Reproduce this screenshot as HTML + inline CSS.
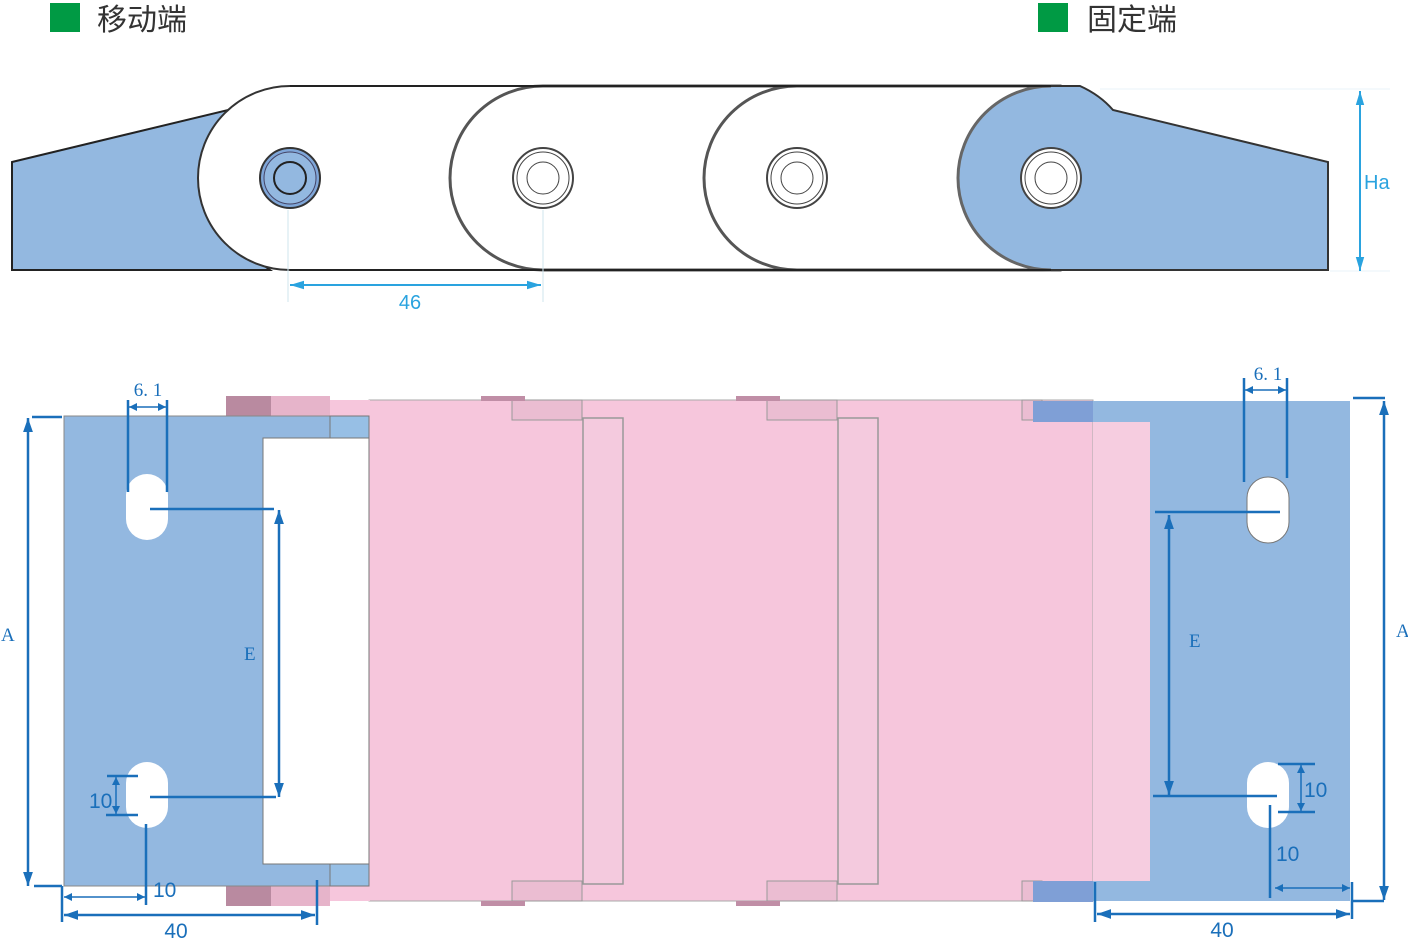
<!DOCTYPE html>
<html><head><meta charset="utf-8"><style>
html,body{margin:0;padding:0;background:#fff;width:1408px;height:939px;overflow:hidden}
svg{display:block}
.cn{font-family:"Liberation Sans","Noto Sans CJK SC",sans-serif;font-size:30px;fill:#333}
.s{font-family:"Liberation Serif",serif;font-size:19px;fill:#1a6fba}
.n{font-family:"Liberation Sans",sans-serif;font-size:21px;fill:#1a6fba}
.lb{font-family:"Liberation Sans",sans-serif;font-size:20px;fill:#2aa3df}
</style></head><body>
<svg width="1408" height="939" viewBox="0 0 1408 939" xmlns="http://www.w3.org/2000/svg">
<defs>
<marker id="a" viewBox="0 0 10 10" refX="10" refY="5" markerWidth="8" markerHeight="8" orient="auto-start-reverse" markerUnits="userSpaceOnUse"><path d="M0,0 L10,5 L0,10 z" fill="#1a6fba"/></marker>
<marker id="b" viewBox="0 0 10 10" refX="10" refY="5" markerWidth="14" markerHeight="14" orient="auto-start-reverse" markerUnits="userSpaceOnUse"><path d="M0,1.5 L10,5 L0,8.5 z" fill="#1a6fba"/></marker>
<marker id="c" viewBox="0 0 10 10" refX="10" refY="5" markerWidth="14" markerHeight="14" orient="auto-start-reverse" markerUnits="userSpaceOnUse"><path d="M0,2 L10,5 L0,8 z" fill="#2aa3df"/></marker>
</defs>
<rect x="50" y="3" width="30" height="29" fill="#009a44"/>
<text x="97" y="30" class="cn">移动端</text>
<rect x="1038" y="3" width="30" height="29" fill="#009a44"/>
<text x="1087" y="30" class="cn">固定端</text>

<polygon points="12,162 228,110 200,180 230,240 270,270 12,270" fill="#93b8e0" stroke="#222" stroke-width="2"/>
<g stroke="#333" stroke-width="2" fill="#fff">
<path d="M290,86 L1060,86 L1060,270 L290,270 A92,92 0 0 1 290,86 Z"/>
<path d="M543,86 L1060,86 L1060,270 L543,270 A93,92 0 0 1 543,86 Z" stroke-width="3" stroke="#555"/>
<path d="M797,86 L1060,86 L1060,270 L797,270 A93,92 0 0 1 797,86 Z" stroke-width="3" stroke="#555"/>
</g>
<path d="M1051,86 L1080,86 Q1100,95 1113,110 L1328,162 L1328,270 L1051,270 A93,92 0 0 1 1051,86 Z" fill="#93b8e0" stroke="#333" stroke-width="2"/>
<path d="M1051,86 A93,92 0 0 0 1051,270" fill="none" stroke="#666" stroke-width="3"/>
<line x1="290" y1="86" x2="1051" y2="86" stroke="#222" stroke-width="2"/>
<line x1="290" y1="270" x2="1051" y2="270" stroke="#222" stroke-width="2"/>
<circle cx="290" cy="178" r="30" fill="#7fa6d8" stroke="#333" stroke-width="2"/>
<circle cx="290" cy="178" r="26" fill="#93b8e0" stroke="#446" stroke-width="1"/>
<circle cx="290" cy="178" r="16" fill="#93b8e0" stroke="#222" stroke-width="2"/>
<g fill="#fff" stroke="#444" stroke-width="2">
<circle cx="543" cy="178" r="30"/><circle cx="543" cy="178" r="26" stroke-width="1"/><circle cx="543" cy="178" r="16" stroke-width="1"/>
<circle cx="797" cy="178" r="30"/><circle cx="797" cy="178" r="26" stroke-width="1"/><circle cx="797" cy="178" r="16" stroke-width="1"/>
<circle cx="1051" cy="178" r="30"/><circle cx="1051" cy="178" r="26" stroke-width="1"/><circle cx="1051" cy="178" r="16" stroke-width="1"/>
</g>
<line x1="288" y1="210" x2="288" y2="302" stroke="#cfe4ee" stroke-width="1"/>
<line x1="543" y1="210" x2="543" y2="302" stroke="#cfe4ee" stroke-width="1"/>
<line x1="290" y1="285" x2="541" y2="285" stroke="#2aa3df" stroke-width="2" marker-start="url(#c)" marker-end="url(#c)"/>
<text x="410" y="309" class="lb" text-anchor="middle" font-family="Liberation Serif">46</text>
<line x1="1100" y1="89" x2="1390" y2="89" stroke="#eaf3f8" stroke-width="1"/>
<line x1="1330" y1="271" x2="1390" y2="271" stroke="#eaf3f8" stroke-width="1"/>
<line x1="1360" y1="91" x2="1360" y2="271" stroke="#2aa3df" stroke-width="2" marker-start="url(#c)" marker-end="url(#c)"/>
<text x="1364" y="189" class="lb">Ha</text>

<rect x="369" y="400" width="724" height="501" fill="#f6c6dc" stroke="#aaa" stroke-width="1"/>
<rect x="226" y="396" width="104" height="20" fill="#e6b4ca"/>
<rect x="226" y="396" width="45" height="20" fill="#b98aa0"/>
<rect x="226" y="886" width="104" height="20" fill="#e6b4ca"/>
<rect x="226" y="886" width="45" height="20" fill="#b98aa0"/>
<rect x="330" y="400" width="40" height="501" fill="#f6c6dc"/>
<rect x="64" y="416" width="266" height="470" fill="#93b8e0" stroke="#888" stroke-width="1"/>
<rect x="330" y="416" width="39" height="22" fill="#97bfe5" stroke="#777" stroke-width="1"/>
<rect x="330" y="864" width="39" height="22" fill="#97bfe5" stroke="#777" stroke-width="1"/>
<rect x="263" y="438" width="106" height="426" fill="#fff" stroke="#777" stroke-width="1"/>
<g stroke="#999" stroke-width="1.5" fill="#f4cade">
<rect x="583" y="418" width="40" height="466"/>
<rect x="838" y="418" width="40" height="466"/>
</g>
<g fill="#ebbdd2" stroke="#999" stroke-width="1">
<rect x="512" y="400" width="70" height="20"/><rect x="512" y="881" width="70" height="20"/>
<rect x="767" y="400" width="70" height="20"/><rect x="767" y="881" width="70" height="20"/>
<rect x="1022" y="400" width="20" height="20"/><rect x="1022" y="881" width="20" height="20"/>
</g>
<g fill="#c08ea6"><rect x="481" y="396" width="44" height="5"/><rect x="481" y="901" width="44" height="5"/><rect x="736" y="396" width="44" height="5"/><rect x="736" y="901" width="44" height="5"/></g>
<rect x="1033" y="401" width="60" height="21" fill="#7f9fd6"/>
<rect x="1033" y="881" width="60" height="21" fill="#7f9fd6"/>
<rect x="1093" y="401" width="257" height="500" fill="#93b8e0"/>
<rect x="1093" y="422" width="57" height="459" fill="#f6cde0"/>
<g fill="#fff">
<rect x="126" y="474" width="42" height="66" rx="21"/>
<rect x="126" y="762" width="42" height="66" rx="21"/>
<rect x="1247" y="477" width="42" height="66" rx="21" stroke="#777" stroke-width="1"/>
<rect x="1247" y="762" width="42" height="66" rx="21"/>
</g>
<g stroke="#1a6fba" stroke-width="2.5" fill="none">
<line x1="28" y1="418" x2="28" y2="886" marker-start="url(#b)" marker-end="url(#b)"/>
<line x1="32" y1="417" x2="62" y2="417"/>
<line x1="34" y1="886" x2="62" y2="886"/>
<line x1="128" y1="400" x2="128" y2="492"/>
<line x1="167" y1="400" x2="167" y2="492"/>
<line x1="279" y1="510" x2="279" y2="797" marker-start="url(#b)" marker-end="url(#b)"/>
<line x1="150" y1="509" x2="274" y2="509"/>
<line x1="150" y1="797" x2="276" y2="797"/>
<line x1="107" y1="776" x2="138" y2="776"/>
<line x1="106" y1="815" x2="138" y2="815"/>
<line x1="146" y1="824" x2="146" y2="905"/>
<line x1="62" y1="886" x2="62" y2="922"/>
<line x1="317" y1="880" x2="317" y2="925"/>
<line x1="64" y1="915" x2="315" y2="915" marker-start="url(#b)" marker-end="url(#b)"/>
</g>
<g stroke="#1a6fba" stroke-width="1.5">
<line x1="129" y1="407" x2="166" y2="407" marker-start="url(#a)" marker-end="url(#a)"/>
<line x1="116" y1="777" x2="116" y2="814" marker-start="url(#a)" marker-end="url(#a)"/>
<line x1="64" y1="897" x2="145" y2="897" marker-start="url(#a)" marker-end="url(#a)"/>
</g>
<text x="148" y="396" class="s" text-anchor="middle">6. 1</text>
<text x="1" y="641" class="s">A</text>
<text x="244" y="660" class="s">E</text>
<text x="89" y="808" class="n">10</text>
<text x="153" y="897" class="n">10</text>
<text x="176" y="938" class="n" text-anchor="middle">40</text>
<g stroke="#1a6fba" stroke-width="2.5" fill="none">
<line x1="1384" y1="401" x2="1384" y2="900" marker-start="url(#b)" marker-end="url(#b)"/>
<line x1="1353" y1="398" x2="1385" y2="398"/>
<line x1="1352" y1="901" x2="1384" y2="901"/>
<line x1="1244" y1="378" x2="1244" y2="482"/>
<line x1="1287" y1="378" x2="1287" y2="478"/>
<line x1="1169" y1="515" x2="1169" y2="795" marker-start="url(#b)" marker-end="url(#b)"/>
<line x1="1155" y1="512" x2="1280" y2="512"/>
<line x1="1153" y1="796" x2="1277" y2="796"/>
<line x1="1278" y1="764" x2="1315" y2="764"/>
<line x1="1278" y1="812" x2="1315" y2="812"/>
<line x1="1270" y1="805" x2="1270" y2="898"/>
<line x1="1095" y1="882" x2="1095" y2="922"/>
<line x1="1352" y1="882" x2="1352" y2="919"/>
<line x1="1097" y1="914" x2="1350" y2="914" marker-start="url(#b)" marker-end="url(#b)"/>
</g>
<g stroke="#1a6fba" stroke-width="1.5">
<line x1="1245" y1="390" x2="1286" y2="390" marker-start="url(#a)" marker-end="url(#a)"/>
<line x1="1301" y1="765" x2="1301" y2="811" marker-start="url(#a)" marker-end="url(#a)"/>
<line x1="1275" y1="888" x2="1350" y2="888" marker-start="url(#a)" marker-end="url(#a)"/>
</g>
<text x="1268" y="380" class="s" text-anchor="middle">6. 1</text>
<text x="1396" y="637" class="s">A</text>
<text x="1189" y="647" class="s">E</text>
<text x="1304" y="797" class="n">10</text>
<text x="1276" y="861" class="n">10</text>
<text x="1222" y="937" class="n" text-anchor="middle">40</text>
</svg>
</body></html>
